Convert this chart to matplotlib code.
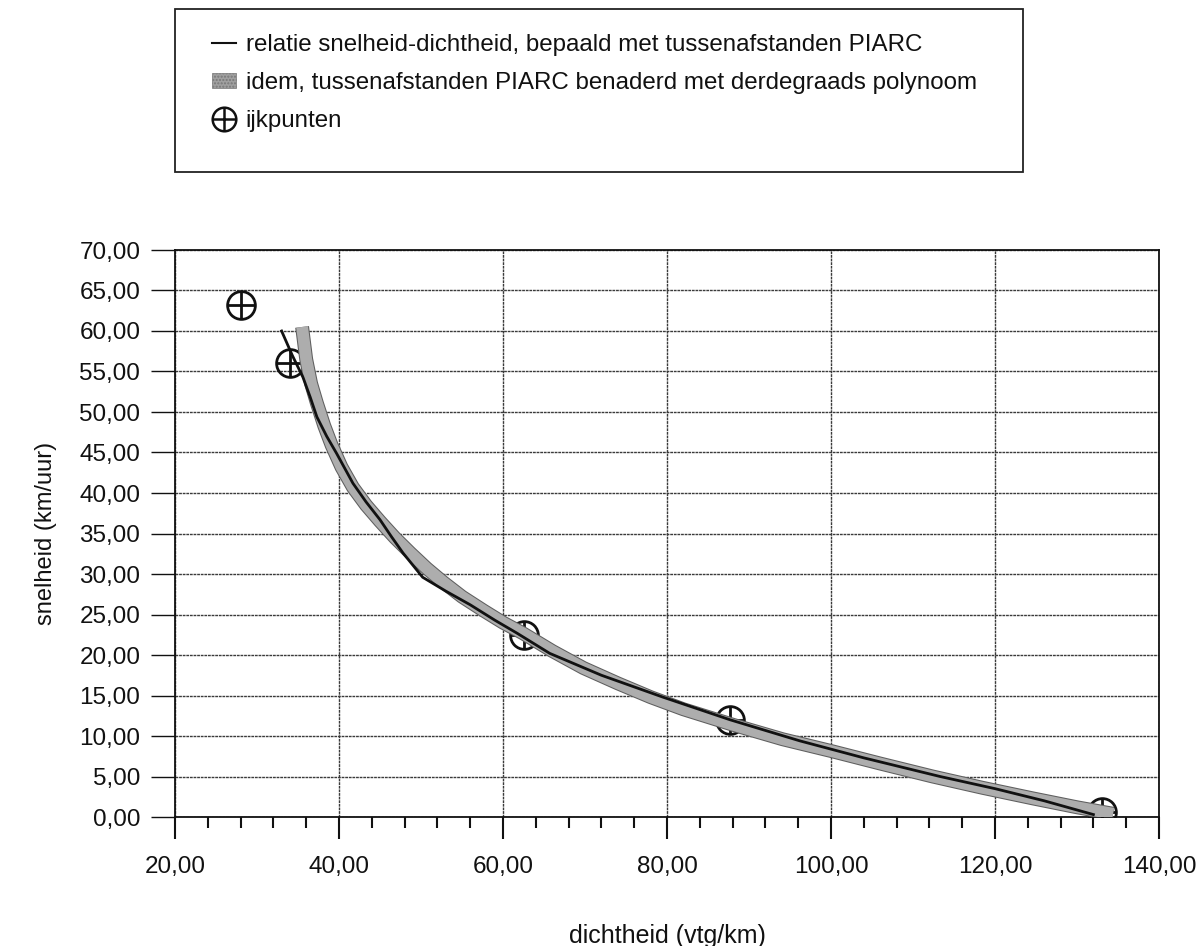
import numpy as np
import matplotlib
matplotlib.use("Agg")
import matplotlib.pyplot as plt
import matplotlib.patheffects as pe
from matplotlib.lines import Line2D
from matplotlib.patches import Patch, Rectangle
from matplotlib.ticker import MultipleLocator, FuncFormatter

plt.rcParams['font.family'] = ['Liberation Sans', 'DejaVu Sans']

# relatie snelheid-dichtheid (tussenafstanden PIARC)
dens_piarc = [33.0, 34.3, 35.6, 36.5, 37.3, 38.5, 39.7, 41.7, 43.3, 45.0,
              46.4, 47.8, 49.0, 50.2, 53.0, 56.0, 59.0, 61.7, 65.7, 72.0,
              79.5, 87.7, 96.2, 104.0, 113.3, 120.0, 126.0, 132.0]
speed_piarc = [60.0, 57.0, 54.3, 51.8, 49.4, 47.0, 44.9, 41.2, 38.9, 36.7,
               34.6, 32.6, 31.1, 29.6, 27.9, 26.2, 24.3, 22.7, 20.2, 17.5,
               14.8, 12.0, 9.4, 7.3, 5.0, 3.5, 2.0, 0.3]

# benadering met derdegraads polynoom
dens_poly = [35.5, 36.0, 36.6, 37.3, 38.2, 39.1, 40.3, 41.7, 43.3, 45.0,
             46.8, 48.7, 50.7, 52.7, 55.0, 57.6, 60.0, 62.4, 66.0, 69.8,
             74.0, 78.0, 82.0, 88.0, 94.1, 100.2, 106.0, 112.4, 118.5, 124.6,
             130.0, 134.4]
speed_poly = [60.5, 56.5, 53.5, 51.1, 48.3, 45.9, 43.2, 40.7, 38.5, 36.5,
              34.5, 32.6, 30.7, 29.0, 27.2, 25.5, 24.0, 22.7, 20.5, 18.4,
              16.5, 14.8, 13.3, 11.4, 9.6, 8.1, 6.6, 5.0, 3.6, 2.3,
              1.2, 0.4]

# ijkpunten
dens_ijk = [28.0, 34.0, 62.6, 87.7, 133.0]
speed_ijk = [63.2, 56.0, 22.5, 12.0, 0.6]

W, H = 1199, 946
fig = plt.figure(figsize=(W / 100, H / 100), dpi=100)
ax = fig.add_axes([175 / W, 1 - 817 / H, (1159 - 175) / W, (817 - 250) / H])

band_fx = [pe.Stroke(linewidth=10, foreground='#5e5e5e'), pe.Normal()]
ax.plot(dens_poly, speed_poly, color='#adadad', lw=8.5, solid_capstyle='butt',
        solid_joinstyle='round', path_effects=band_fx, zorder=3)
ax.plot(dens_piarc, speed_piarc, color='#111111', lw=2,
        solid_joinstyle='round', zorder=4)

ax.plot(dens_ijk, speed_ijk, ls='none', marker='o', ms=20, mfc='none',
        mec='#111111', mew=2, zorder=2)
ax.plot(dens_ijk, speed_ijk, ls='none', marker='+', ms=20,
        mec='#111111', mew=2, zorder=2)

ax.set_xlim(20, 140)
ax.set_ylim(0, 70)
ax.xaxis.set_major_locator(MultipleLocator(20))
ax.xaxis.set_minor_locator(MultipleLocator(4))
ax.yaxis.set_major_locator(MultipleLocator(5))
fmt = FuncFormatter(lambda v, p: f"{v:.2f}".replace('.', ','))
ax.xaxis.set_major_formatter(fmt)
ax.yaxis.set_major_formatter(fmt)

ax.grid(True, which='major', color='#3a3a3a', lw=1, ls=(0, (2, 0.6)))
ax.tick_params(axis='x', which='major', direction='out', length=16, width=1.5,
               pad=12, labelsize=17.5, colors='#111111')
ax.tick_params(axis='x', which='minor', direction='out', length=8, width=1.5,
               colors='#111111')
ax.tick_params(axis='y', which='major', direction='out', length=17, width=1,
               pad=8, labelsize=17.5, colors='#111111')
for s in ax.spines.values():
    s.set_color('#111111')
    s.set_linewidth(1.3)

ax.set_xlabel('dichtheid (vtg/km)', fontsize=18, labelpad=33, color='#111111')
ax.set_ylabel('snelheid (km/uur)', fontsize=17, labelpad=16, color='#111111')

# legend
fig.patches.append(Rectangle((175 / W, 1 - 172 / H), (1023 - 175) / W,
                             (172 - 9) / H, transform=fig.transFigure,
                             fill=False, edgecolor='#222222', lw=1.3))
h_line = Line2D([], [], color='#111111', lw=1.5)
h_band = Patch(facecolor='#a0a0a0', edgecolor='#777777', hatch='.....', lw=0.5)
h_ijk = (Line2D([], [], ls='none', marker='o', ms=17, mfc='none',
                mec='#111111', mew=1.8),
         Line2D([], [], ls='none', marker='+', ms=17, mec='#111111', mew=1.8))
fig.legend([h_line, h_band, h_ijk],
           ['relatie snelheid-dichtheid, bepaald met tussenafstanden PIARC',
            'idem, tussenafstanden PIARC benaderd met derdegraads polynoom',
            'ijkpunten'],
           loc='upper left', bbox_to_anchor=(212 / W, 1 - 34 / H),
           frameon=False, fontsize=17.4, handlelength=1.0, handleheight=0.6,
           handletextpad=0.4, labelspacing=0.66, borderpad=0,
           borderaxespad=0, labelcolor='#111111')

fig.savefig('out.png', dpi=100)
